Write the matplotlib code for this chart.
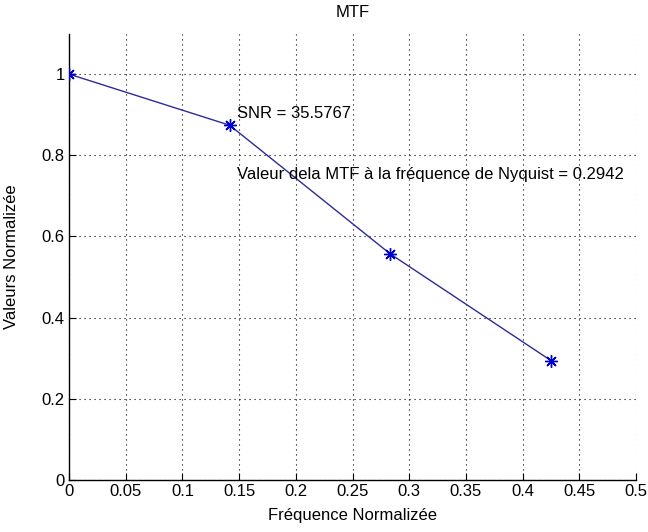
import matplotlib
matplotlib.use("Agg")
import matplotlib.pyplot as plt

# MTF samples (normalized frequency vs normalized value)
freq = [0.0, 0.1417, 0.2833, 0.425]
mtf = [1.0, 0.874, 0.557, 0.2942]
snr = 35.5767
xticks = [0, 0.05, 0.1, 0.15, 0.2, 0.25, 0.3, 0.35, 0.4, 0.45, 0.5]
xticklabels = ["0", "0.05", "0.1", "0.15", "0.2", "0.25", "0.3", "0.35", "0.4", "0.45", "0.5"]
yticks = [0, 0.2, 0.4, 0.6, 0.8, 1.0]
yticklabels = ["0", "0.2", "0.4", "0.6", "0.8", "1"]

plt.rcParams["font.family"] = ["Liberation Sans", "DejaVu Sans"]
fs = 12

fig = plt.figure(figsize=(6.48, 5.32), dpi=100)
ax_h = (480 - 33.5) / 532
ax = fig.add_axes([69 / 648, 1 - 480 / 532, (636 - 69) / 648, ax_h])

# MATLAB-like '*' marker: eight-armed asterisk
ax.plot(freq, mtf, color="#2b2b99", linewidth=1.0, marker=(8, 2, 0), markersize=9,
        markeredgewidth=1.0, markeredgecolor="#0000cc", zorder=3)

ax.set_xlim(0, 0.5)
ax.set_ylim(0, 1.1)
ax.set_xticks(xticks)
ax.set_xticklabels(xticklabels, fontsize=fs)
ax.set_yticks(yticks)
ax.set_yticklabels(yticklabels, fontsize=fs)
ax.tick_params(direction="in", length=5, width=0.8, pad=3, colors="black")

for side in ("top", "right"):
    ax.spines[side].set_visible(False)
for side in ("left", "bottom"):
    ax.spines[side].set_linewidth(1.0)

ax.grid(True, color="black", linestyle=(0, (1, 3.5)), linewidth=0.8)
ax.set_axisbelow(True)

ax.set_title("MTF", fontsize=fs, y=1.0, pad=12)
ax.set_xlabel("Fréquence Normalizée", fontsize=fs)
ax.set_ylabel("Valeurs Normalizée", fontsize=fs)
ax.xaxis.set_label_coords(0.5, (480 - 508) / (480 - 33.5))
ax.yaxis.set_label_coords((19 - 69) / 567, 0.5)

ax.text(0.148, 0.904, f"SNR = {snr}", fontsize=fs, va="center", ha="left")
ax.text(0.148, 0.753, f"Valeur dela MTF à la fréquence de Nyquist = {mtf[-1]}",
        fontsize=fs, va="center", ha="left")

fig.savefig("out.png", dpi=100, facecolor="white")
